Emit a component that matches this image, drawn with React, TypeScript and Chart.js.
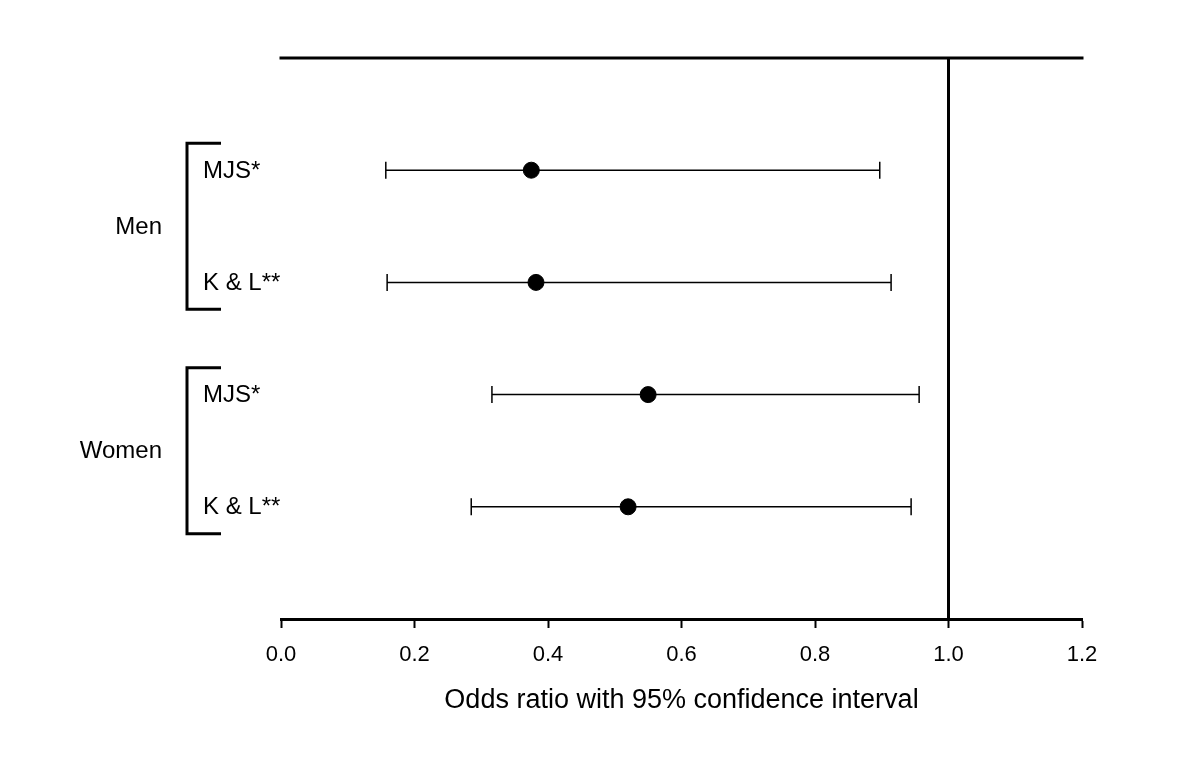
import React, { useEffect, useRef } from "react";
import { Chart, registerables } from "chart.js";

Chart.register(...registerables);

const rowLabels = ["MJS*", "K & L**", "MJS*", "K & L**"];
const rowPositions = [1, 2, 3, 4];
const groupLabels = ["Men", "Women"];
const groupRows = [
  [1, 2],
  [3, 4],
];
const oddsRatios = [0.375, 0.382, 0.55, 0.52];
const lowerCI = [0.157, 0.159, 0.316, 0.285];
const upperCI = [0.897, 0.914, 0.956, 0.944];
const xTicks = [0, 0.2, 0.4, 0.6, 0.8, 1.0, 1.2];
const referenceValue = 1.0;
const xTitle = "Odds ratio with 95% confidence interval";

const FONT = "Arial, 'Liberation Sans', Helvetica, sans-serif";

const forestPlugin = {
  id: "forestPlugin",
  beforeDatasetsDraw(chart: any) {
    const { ctx, chartArea, scales } = chart;
    const xs = scales.x;
    const ys = scales.y;
    ctx.save();
    // top frame line
    ctx.strokeStyle = "#000";
    ctx.lineWidth = 3;
    ctx.beginPath();
    ctx.moveTo(chartArea.left - 1.5, chartArea.top);
    ctx.lineTo(chartArea.right + 1.5, chartArea.top);
    ctx.stroke();
    // reference line
    const rx = xs.getPixelForValue(referenceValue);
    ctx.beginPath();
    ctx.moveTo(rx, chartArea.top);
    ctx.lineTo(rx, chartArea.bottom);
    ctx.stroke();
    // error bars
    ctx.lineWidth = 1.5;
    for (let i = 0; i < oddsRatios.length; i++) {
      const y = ys.getPixelForValue(rowPositions[i]);
      const x1 = xs.getPixelForValue(lowerCI[i]);
      const x2 = xs.getPixelForValue(upperCI[i]);
      ctx.beginPath();
      ctx.moveTo(x1, y);
      ctx.lineTo(x2, y);
      ctx.moveTo(x1, y - 8.5);
      ctx.lineTo(x1, y + 8.5);
      ctx.moveTo(x2, y - 8.5);
      ctx.lineTo(x2, y + 8.5);
      ctx.stroke();
    }
    // row labels
    ctx.fillStyle = "#000";
    ctx.font = `24px ${FONT}`;
    ctx.textAlign = "left";
    ctx.textBaseline = "middle";
    for (let i = 0; i < rowLabels.length; i++) {
      const y = ys.getPixelForValue(rowPositions[i]);
      ctx.fillText(rowLabels[i], 203, y + 1);
    }
    // group brackets and labels
    ctx.lineWidth = 3;
    for (let g = 0; g < groupLabels.length; g++) {
      const [a, b] = groupRows[g];
      const yTop = ys.getPixelForValue(a - 0.24);
      const yBot = ys.getPixelForValue(b + 0.24);
      ctx.beginPath();
      ctx.moveTo(221, yTop);
      ctx.lineTo(187, yTop);
      ctx.lineTo(187, yBot);
      ctx.lineTo(221, yBot);
      ctx.stroke();
      const ym = (ys.getPixelForValue(a) + ys.getPixelForValue(b)) / 2;
      ctx.textAlign = "right";
      ctx.fillText(groupLabels[g], 162, ym + 1);
    }
    // axis title
    ctx.font = `27px ${FONT}`;
    ctx.textAlign = "center";
    ctx.fillText(xTitle, (chartArea.left + chartArea.right) / 2, 701);
    ctx.restore();
  },
};

export default function App() {
  const ref = useRef<HTMLCanvasElement | null>(null);
  useEffect(() => {
    if (!ref.current) return;
    const chart = new Chart(ref.current, {
      type: "scatter",
      data: {
        datasets: [
          {
            data: oddsRatios.map((v, i) => ({ x: v, y: rowPositions[i] })),
            backgroundColor: "#000",
            borderColor: "#000",
            pointRadius: 8,
            pointHoverRadius: 8,
          },
        ],
      },
      options: {
        animation: false,
        responsive: false,
        devicePixelRatio: 1,
        layout: { padding: { left: 281, right: 118, top: 58, bottom: 0 } },
        plugins: {
          legend: { display: false },
          tooltip: { enabled: false },
        },
        scales: {
          x: {
            type: "linear",
            min: 0,
            max: 1.2,
            afterFit: (scale: any) => {
              scale.height = 139;
            },
            afterBuildTicks: (scale: any) => {
              scale.ticks = xTicks.map((v) => ({ value: v }));
            },
            ticks: {
              color: "#000",
              font: { size: 22, family: FONT },
              padding: 14,
              callback: (v: any) => Number(v).toFixed(1),
              maxRotation: 0,
            },
            grid: {
              display: true,
              drawOnChartArea: false,
              drawTicks: true,
              tickLength: 9,
              tickWidth: 2,
              tickColor: "#000",
              color: "#000",
            },
            border: { display: true, color: "#000", width: 3 },
          },
          y: {
            type: "linear",
            display: false,
            min: 0,
            max: 5,
            reverse: true,
          },
        },
      },
      plugins: [forestPlugin],
    });
    return () => chart.destroy();
  }, []);
  return (
    <div style={{ position: "absolute", left: 0, top: 0, width: 1200, height: 758, background: "#fff" }}>
      <canvas ref={ref} width={1200} height={758} />
    </div>
  );
}
